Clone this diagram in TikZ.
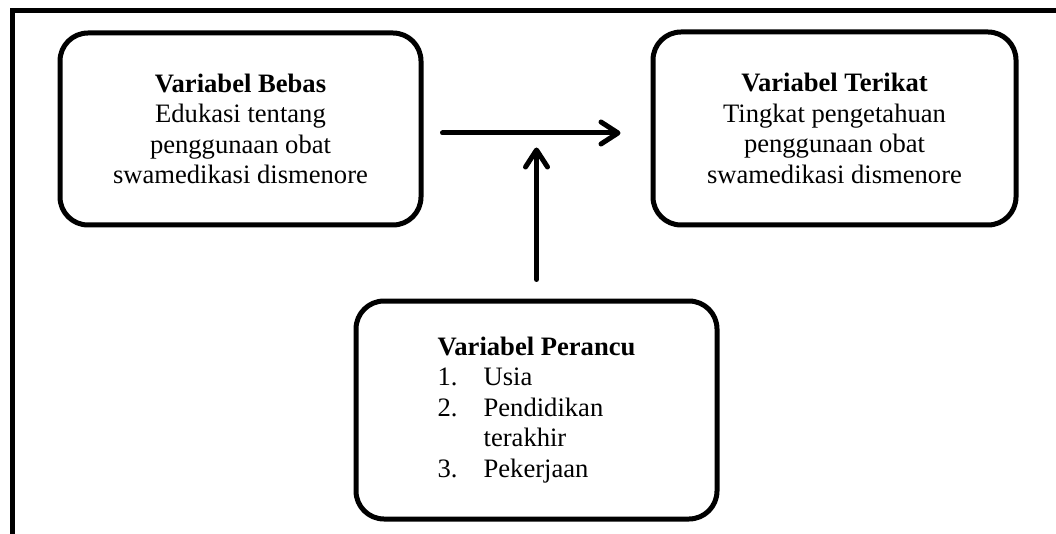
\documentclass[tikz,border=0pt]{standalone}
\usepackage{fontspec}
\setmainfont{Liberation Serif}
\usetikzlibrary{arrows.meta}
\begin{document}
\begin{tikzpicture}[x=1pt,y=1pt,
  varbox/.style={draw, line width=5pt, rounded corners=28pt, fill=white,
    inner sep=0pt, font=\fontsize{26.6}{30.4}\selectfont},
  arr/.style={line width=5pt, line cap=round,
    -{Straight Barb[length=17pt,width=22pt,line cap=round,line join=round]}},
  frame/.style={line width=5pt, line join=miter}]
\useasboundingbox (0,0) rectangle (1056,-534);
\draw[frame] (12,-545) -- (12,-11) -- (1065,-11);
\node[varbox, minimum width=361pt, minimum height=192pt, align=center]
  (bebas) at (240.5,-129)
  {\textbf{Variabel Bebas}\\Edukasi tentang\\penggunaan obat\\swamedikasi dismenore};
\node[varbox, minimum width=363pt, minimum height=193pt, align=center]
  (terikat) at (834.5,-128.5)
  {\textbf{Variabel Terikat}\\Tingkat pengetahuan\\penggunaan obat\\swamedikasi dismenore};
\node[varbox, minimum width=361pt, minimum height=218pt, align=left]
  (perancu) at (536.5,-410)
  {\textbf{Variabel Perancu}\\
   \makebox[46pt][l]{1.}Usia\\
   \makebox[46pt][l]{2.}Pendidikan\\
   \hspace*{46pt}terakhir\\
   \makebox[46pt][l]{3.}Pekerjaan};
\draw[arr] ([xshift=19pt,yshift=-4pt]bebas.east) -- ([xshift=-30pt,yshift=-4.5pt]terikat.west);
\draw[arr] ([yshift=19pt]perancu.north) -- ([yshift=151pt]perancu.north);
\end{tikzpicture}
\end{document}
